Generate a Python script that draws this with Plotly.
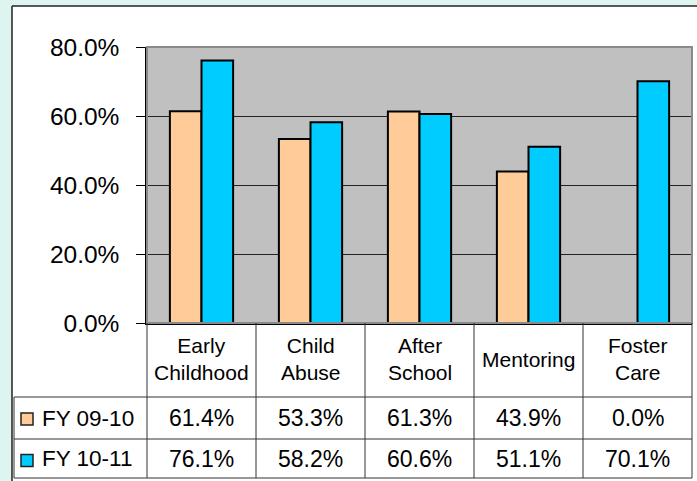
import plotly.graph_objects as go

categories = ["Early Childhood", "Child Abuse", "After School", "Mentoring", "Foster Care"]
cat_labels = ["Early<br>Childhood", "Child<br>Abuse", "After<br>School", "Mentoring", "Foster<br>Care"]
series_names = ["FY 09-10", "FY 10-11"]
fy0910 = [61.4, 53.3, 61.3, 43.9, 0.0]
fy1011 = [76.1, 58.2, 60.6, 51.1, 70.1]
y_ticks = [0, 20, 40, 60, 80]

W, H = 697, 481
FONT = "Liberation Sans, Arial, sans-serif"
C_PEACH = "#FFCC99"
C_CYAN = "#00CCFF"
C_OUTER = "#DDF4F0"

def px(x):
    return x / W

def py(y):
    return 1 - y / H

PL, PR, PT, PB = 147, 692, 47, 323  # plot area in pixels

fig = go.Figure()
for name, vals, col in [(series_names[0], fy0910, C_PEACH), (series_names[1], fy1011, C_CYAN)]:
    fig.add_trace(go.Bar(
        x=categories, y=vals, name=name,
        marker=dict(color=col, line=dict(color="black", width=2)),
        showlegend=False,
    ))

shapes = []
# outer light background strips (left and top)
shapes.append(dict(type="rect", xref="paper", yref="paper", x0=0, x1=px(12),
                   y0=0, y1=1, fillcolor=C_OUTER, line=dict(width=0)))
shapes.append(dict(type="rect", xref="paper", yref="paper", x0=0, x1=1,
                   y0=py(6), y1=1, fillcolor=C_OUTER, line=dict(width=0)))
# chart area border
shapes.append(dict(type="line", xref="paper", yref="paper", x0=px(12), x1=1,
                   y0=py(6), y1=py(6), line=dict(color="#222222", width=1.5)))
shapes.append(dict(type="line", xref="paper", yref="paper", x0=px(12), x1=px(12),
                   y0=0, y1=py(6), line=dict(color="#222222", width=1.5)))
# plot area border
shapes.append(dict(type="rect", xref="x domain", yref="y domain", x0=0, x1=1, y0=0, y1=1,
                   line=dict(color="#8a8a8a", width=2), layer="above"))

LINE = dict(color="#333333", width=1)
ROW1, ROW2, ROW3 = 397, 439, 478
LEFT = 14
for yy in (ROW1, ROW2, ROW3):
    shapes.append(dict(type="line", xref="paper", yref="paper", x0=px(LEFT), x1=px(PR),
                       y0=py(yy), y1=py(yy), line=LINE))
ncat = len(categories)
for i in range(ncat + 1):
    xx = PL + (PR - PL) * i / ncat
    shapes.append(dict(type="line", xref="paper", yref="paper", x0=px(xx), x1=px(xx),
                       y0=py(PB), y1=py(ROW3), line=LINE))
shapes.append(dict(type="line", xref="paper", yref="paper", x0=px(LEFT), x1=px(LEFT),
                   y0=py(ROW1), y1=py(ROW3), line=LINE))
for (yc, col) in [((ROW1 + ROW2) / 2 + 1, C_PEACH), ((ROW2 + ROW3) / 2 + 2, C_CYAN)]:
    shapes.append(dict(type="rect", xref="paper", yref="paper", x0=px(21), x1=px(33),
                       y0=py(yc - 6), y1=py(yc + 6), fillcolor=col,
                       line=dict(color="#222222", width=1.5)))

annotations = []
CF = dict(family=FONT, size=21, color="black")
VF = dict(family=FONT, size=23, color="black")
LF = dict(family=FONT, size=22.5, color="black")
for c, lab in zip(categories, cat_labels):
    annotations.append(dict(x=c, xref="x", y=py((PB + ROW1) / 2 - 1), yref="paper",
                            text=lab, showarrow=False, font=CF,
                            xanchor="center", yanchor="middle"))
for row_y, name, vals in [((ROW1 + ROW2) / 2, series_names[0], fy0910),
                          ((ROW2 + ROW3) / 2, series_names[1], fy1011)]:
    annotations.append(dict(x=px(40), xref="paper", y=py(row_y), yref="paper",
                            text=name, showarrow=False, font=LF,
                            xanchor="left", yanchor="middle"))
    for c, v in zip(categories, vals):
        annotations.append(dict(x=c, xref="x", y=py(row_y), yref="paper",
                                text=f"{v:.1f}%", showarrow=False, font=VF,
                                xanchor="center", yanchor="middle"))

fig.update_layout(
    width=W, height=H,
    margin=dict(l=0, r=0, t=0, b=0, pad=0, autoexpand=False),
    paper_bgcolor="white",
    plot_bgcolor="#C0C0C0",
    barmode="group", bargap=0.42, bargroupgap=0,
    shapes=shapes, annotations=annotations,
    xaxis=dict(domain=[px(PL), px(PR)], showticklabels=False, ticks="",
               showline=True, linecolor="black", linewidth=1.5, showgrid=False,
               automargin=False, fixedrange=True),
    yaxis=dict(domain=[py(PB), py(PT)], range=[0, 80], tickvals=y_ticks,
               ticktext=[f"{t:.1f}%" for t in y_ticks],
               ticks="outside", ticklen=9, tickcolor="black", tickwidth=1,
               ticklabelstandoff=12,
               showline=True, linecolor="black", linewidth=1.5,
               showgrid=True, gridcolor="#222222", gridwidth=1,
               zeroline=False, automargin=False,
               tickfont=dict(family=FONT, size=24.5, color="black"),
               fixedrange=True),
    font=dict(family=FONT),
)

fig.write_html("out.html", config={"displayModeBar": False},
               post_script="document.body.style.margin='0';document.body.style.padding='0';")
